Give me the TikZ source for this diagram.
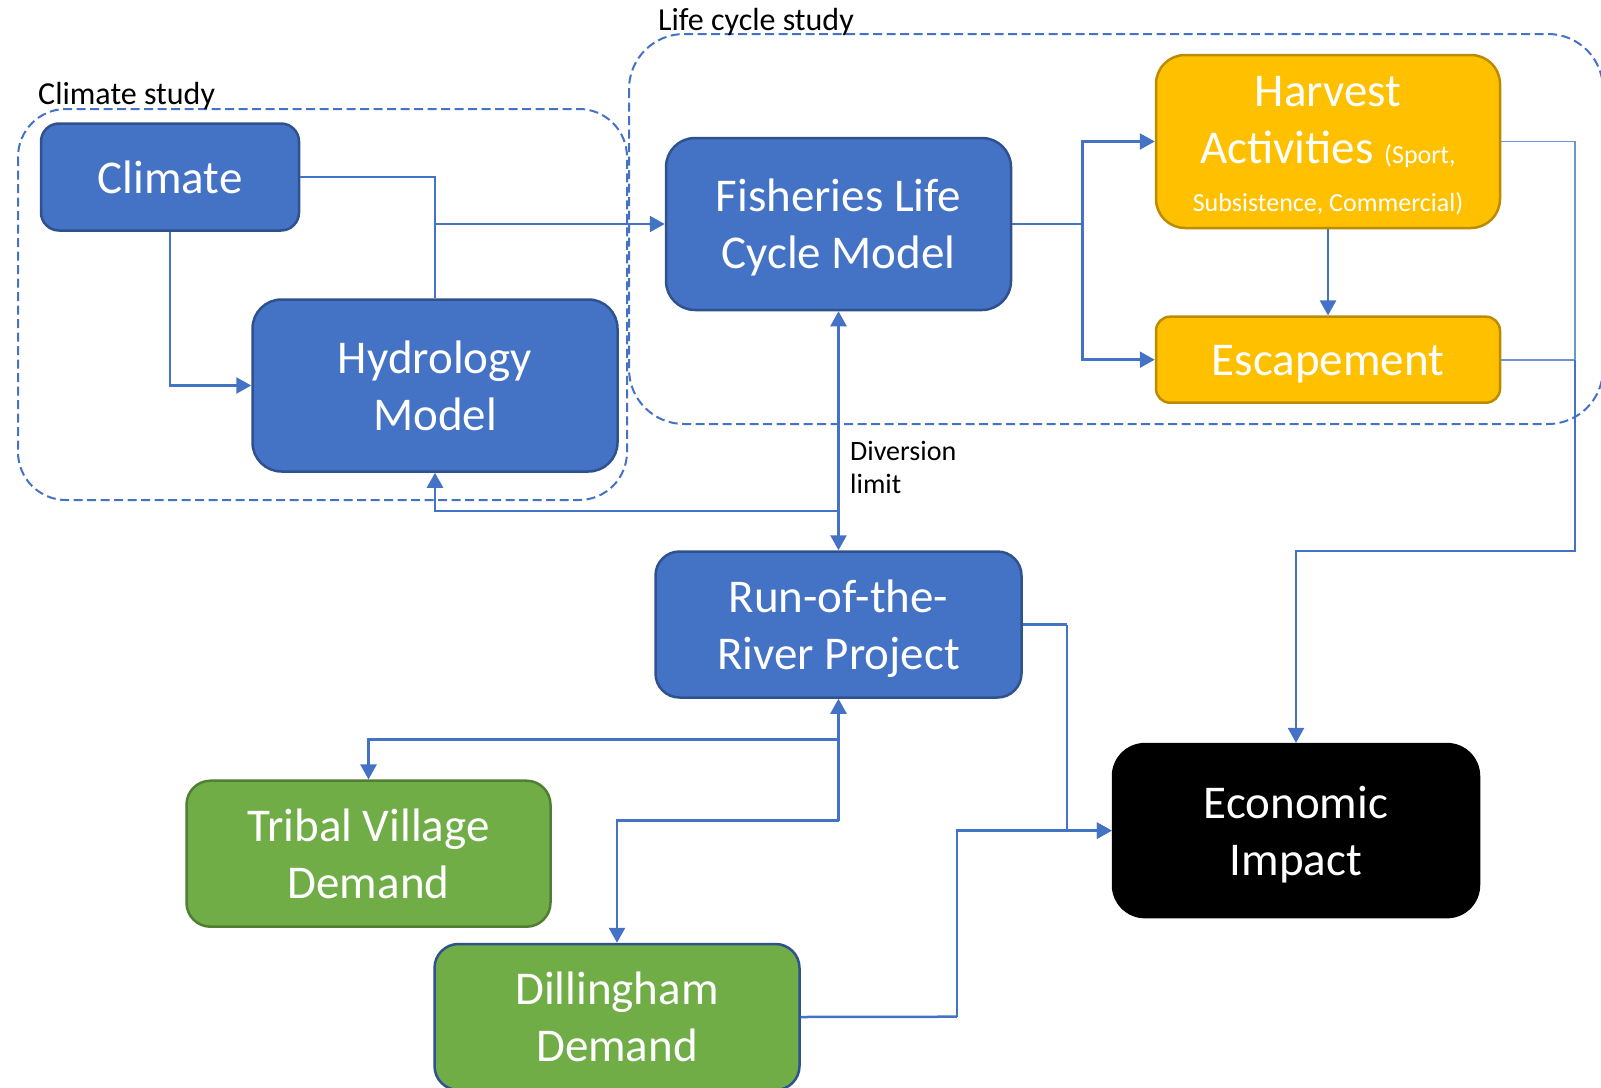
\documentclass[tikz,border=0pt]{standalone}
\usepackage{fontspec}
\setmainfont{Carlito}
\usetikzlibrary{arrows.meta}
\definecolor{blueF}{HTML}{4472C4}
\definecolor{blueD}{HTML}{2F528F}
\definecolor{orangeF}{HTML}{FFC000}
\definecolor{orangeD}{HTML}{BC8C00}
\definecolor{greenF}{HTML}{70AD47}
\definecolor{greenD}{HTML}{507E32}
\definecolor{lineB}{HTML}{4472C4}
\definecolor{lineL}{HTML}{6F93D3}
\newcommand\bst{\rule[-12.5pt]{0pt}{57pt}}
\newcommand\sst{\rule[-9.1pt]{0pt}{43.3pt}}
\begin{document}
\begin{tikzpicture}[x=1pt,y=-1pt,
  box/.style={draw, line width=2.5pt, text=white, align=center, inner sep=0pt,
    font=\fontsize{47}{57}\selectfont},
  bluebox/.style={box, fill=blueF, draw=blueD},
  orangebox/.style={box, fill=orangeF, draw=orangeD},
  greenbox/.style={box, fill=greenF, draw=greenD},
  blackbox/.style={box, fill=black, draw=black},
  group/.style={draw=blueF, line width=2pt, dash pattern=on 9pt off 4.5pt},
  lbl/.style={inner sep=0pt, text=black, font=\fontsize{32}{38}\selectfont},
  conn/.style={draw=lineB, line width=2.5pt},
  thinconn/.style={draw=lineL, line width=1.6pt},
  arr/.style={conn, -{Triangle[length=15pt,width=16pt]}},
  darr/.style={conn, {Triangle[length=15pt,width=16pt]}-{Triangle[length=15pt,width=16pt]}}
]
\clip (0,0) rectangle (1601,1087);
\useasboundingbox (0,0) rectangle (1601,1087);

% group frames
\draw[group, rounded corners=48pt] (18,109) rectangle (627,500);
\draw[group, rounded corners=55pt] (629,34) rectangle (1603,424);
\node[lbl, anchor=base west] (climstudy) at (38,104) {Climate study};
\node[lbl, anchor=base west] (lifestudy) at (658,30) {Life cycle study};

% nodes
\node[bluebox, minimum width=258pt, minimum height=107pt, rounded corners=18pt] (climate) at (170,177) {\bst Climate};
\node[bluebox, minimum width=365pt, minimum height=172pt, rounded corners=29pt] (hydro) at (435,385.5) {\bst Hydrology\\\bst Model};
\node[bluebox, minimum width=345pt, minimum height=172pt, rounded corners=29pt] (fish) at (838.5,224) {\bst Fisheries Life\\\bst Cycle Model};
\node[orangebox, minimum width=344pt, minimum height=173pt, rounded corners=29pt] (harvest) at (1328,141.5)
  {\bst Harvest\\\bst Activities {\fontsize{26}{30}\selectfont (Sport,}\\[-9.3pt]{\fontsize{26}{30}\selectfont\sst Subsistence, Commercial)}};
\node[orangebox, minimum width=344pt, minimum height=86pt, rounded corners=14pt] (escape) at (1328,359.7) {\bst Escapement};
\node[bluebox, minimum width=366pt, minimum height=146pt, rounded corners=24pt] (run) at (838.5,624.5) {\bst Run-of-the-\\\bst River Project};
\node[blackbox, minimum width=366pt, minimum height=173pt, rounded corners=32pt] (econ) at (1296,830.6) {\bst Economic\\\bst Impact};
\node[greenbox, minimum width=364pt, minimum height=146pt, rounded corners=24pt] (tribal) at (368.5,853.7) {\bst Tribal Village\\\bst Demand};
\node[greenbox, draw=blueD, minimum width=365pt, minimum height=146pt, rounded corners=24pt] (dill) at (617,1017) {\bst Dillingham\\\bst Demand};

\node[anchor=north west, inner sep=0pt, align=left, font=\fontsize{28}{33}\selectfont] (div) at (850,441) {Diversion\\limit};

% junction coordinates
\coordinate (j1) at (hydro.north |- fish.west);
\coordinate (j2) at (1082.7,224);
\coordinate (r0) at (1575,551);
\coordinate (j3) at (838.5,511);
\coordinate (j4) at (838.5,739.3);
\coordinate (j5) at (838.5,820.7);
\coordinate (k1) at (1067,624.5);
\coordinate (k2) at (956.8,1016.7);

% connectors
\draw[conn] (climate.east) -| (j1);
\draw[conn] (hydro.north) -- (j1);
\draw[arr] (j1) -- (fish.west);
\draw[arr] (climate.south) |- (hydro.west);

\draw[conn] (fish.east) -- (j2);
\draw[arr] (j2) |- (harvest.west);
\draw[arr] (j2) |- (escape.west);
\draw[arr] (harvest.south) -- (escape.north);

\draw[thinconn] (harvest.east) -- (harvest.east -| r0) -- (escape.east -| r0);
\draw[thinconn] (escape.east) -- (escape.east -| r0);
\draw[arr] (escape.east -| r0) -- (r0) -| (econ.north);

\draw[darr] (fish.south) -- (run.north);
\draw[arr] (j3) -| (hydro.south);

\draw[conn] (j4) -- (j5);
\draw[arr] (j5) -- (run.south);
\draw[arr] (j4) -| (tribal.north);
\draw[arr] (j5) -| (dill.north);

\draw[conn] (run.east) -- (k1);
\draw[arr] (k1) |- (econ.west);
\draw[conn] (dill.east) -- (k2);
\draw[arr] (k2) |- (econ.west);
\end{tikzpicture}
\end{document}
